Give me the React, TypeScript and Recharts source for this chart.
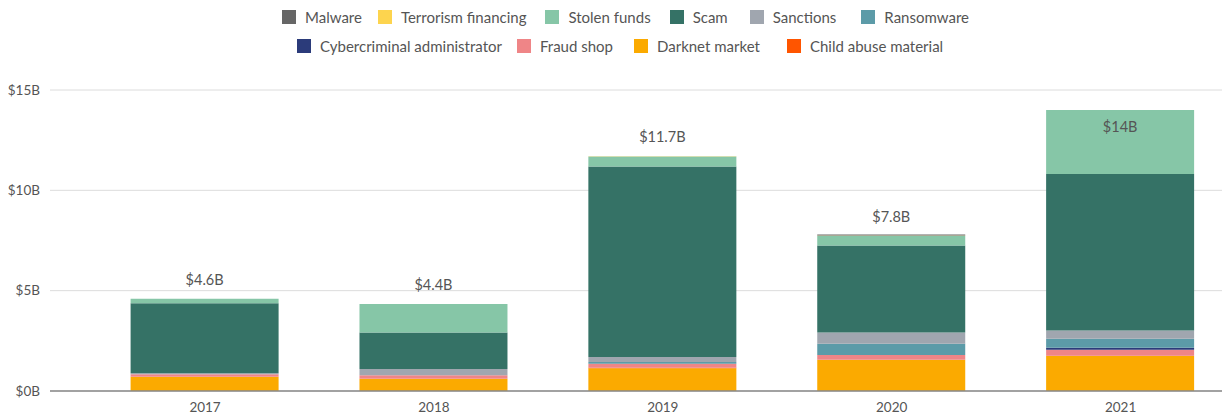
import React from "react";
import { BarChart, Bar, XAxis, YAxis, CartesianGrid, LabelList } from "recharts";

const years = ["2017", "2018", "2019", "2020", "2021"];
const darknetMarket = [0.71, 0.61, 1.13, 1.56, 1.74];
const childAbuse = [0.0, 0.0, 0.03, 0.0, 0.02];
const fraudShop = [0.12, 0.17, 0.2, 0.23, 0.3];
const cybercriminalAdmin = [0.0, 0.0, 0.0, 0.0, 0.1];
const ransomware = [0.01, 0.01, 0.08, 0.56, 0.45];
const sanctions = [0.05, 0.31, 0.25, 0.57, 0.4];
const scam = [3.48, 1.82, 9.5, 4.33, 7.8];
const stolenFunds = [0.23, 1.42, 0.5, 0.49, 3.19];
const terrorismFinancing = [0.0, 0.0, 0.01, 0.01, 0.0];
const malware = [0.0, 0.0, 0.0, 0.05, 0.0];
const totalLabels = ["$4.6B", "$4.4B", "$11.7B", "$7.8B", "$14B"];
const yTicks = [0, 5, 10, 15];

const series = [
  { key: "darknet", name: "Darknet market", color: "#FBAA00", values: darknetMarket },
  { key: "child", name: "Child abuse material", color: "#FF5500", values: childAbuse },
  { key: "fraud", name: "Fraud shop", color: "#EF8587", values: fraudShop },
  { key: "cyber", name: "Cybercriminal administrator", color: "#2B3B7A", values: cybercriminalAdmin },
  { key: "ransom", name: "Ransomware", color: "#5C9BA8", values: ransomware },
  { key: "sanctions", name: "Sanctions", color: "#A0A6AF", values: sanctions },
  { key: "scam", name: "Scam", color: "#357266", values: scam },
  { key: "stolen", name: "Stolen funds", color: "#86C6A7", values: stolenFunds },
  { key: "terror", name: "Terrorism financing", color: "#FDD44E", values: terrorismFinancing },
  { key: "malware", name: "Malware", color: "#666666", values: malware },
];

const legendRow1 = ["Malware", "Terrorism financing", "Stolen funds", "Scam", "Sanctions", "Ransomware"];
const legendRow2 = ["Cybercriminal administrator", "Fraud shop", "Darknet market", "Child abuse material"];

const data = years.map((y, i) => {
  const row: any = { year: y, label: totalLabels[i] };
  series.forEach((s) => (row[s.key] = s.values[i]));
  return row;
});

const FONT = "Lato, 'Open Sans', sans-serif";

const TotalLabel = (props: any) => {
  const { x, y, width, value } = props;
  const inside = y < 130;
  return (
    <text
      x={x + width / 2}
      y={inside ? y + 22 : y - 14}
      textAnchor="middle"
      fill="#555"
      fontSize={14.5}
      fontFamily={FONT}
    >
      {value}
    </text>
  );
};

const LegendRow = ({ names, top, left, gaps }: { names: string[]; top: number; left: number; gaps: number[] }) => (
  <div
    style={{
      position: "absolute",
      top,
      left,
      display: "flex",
      alignItems: "center",
      fontFamily: FONT,
      fontSize: 15,
      color: "#555",
      whiteSpace: "nowrap",
    }}
  >
    {names.map((n, i) => {
      const s = series.find((q) => q.name === n)!;
      return (
        <div key={n} style={{ display: "flex", alignItems: "center", marginRight: gaps[i] ?? 0 }}>
          <span
            style={{ display: "inline-block", width: 14, height: 14, background: s.color, marginRight: 9 }}
          />
          <span>{n}</span>
        </div>
      );
    })}
  </div>
);

export default function App() {
  return (
    <div style={{ position: "absolute", left: 0, top: 0, width: 1225, height: 415, background: "#fff" }}>
      <LegendRow names={legendRow1} top={8} left={282} gaps={[16, 19, 19, 22, 25, 0]} />
      <LegendRow names={legendRow2} top={37} left={297} gaps={[15, 21, 27, 0]} />
      <div style={{ position: "absolute", left: 0, top: 0 }}>
        <BarChart
          width={1225}
          height={415}
          data={data}
          margin={{ top: 90, right: 3, bottom: 0, left: 0 }}
        >
          <CartesianGrid vertical={false} stroke="#dcdcdc" strokeWidth={1} />
          <XAxis
            dataKey="year"
            height={24}
            tickSize={0}
            tickMargin={11}
            padding={{ left: 40.6, right: -13 }}
            axisLine={{ stroke: "#888", strokeWidth: 1.5 }}
            tick={{ fill: "#555", fontSize: 13.5, fontFamily: FONT }}
          />
          <YAxis
            width={50}
            domain={[0, 15]}
            ticks={yTicks}
            tickSize={0}
            tickMargin={10}
            axisLine={false}
            tickFormatter={(v: number) => `$${v}B`}
            tick={{ fill: "#555", fontSize: 13.5, fontFamily: FONT }}
          />
          {series.map((s) => (
            <Bar
              key={s.key}
              dataKey={s.key}
              name={s.name}
              stackId="a"
              fill={s.color}
              barSize={148}
              isAnimationActive={false}
            >
              {s.key === "stolen" ? <LabelList dataKey="label" content={TotalLabel} /> : null}
            </Bar>
          ))}
        </BarChart>
      </div>
    </div>
  );
}
